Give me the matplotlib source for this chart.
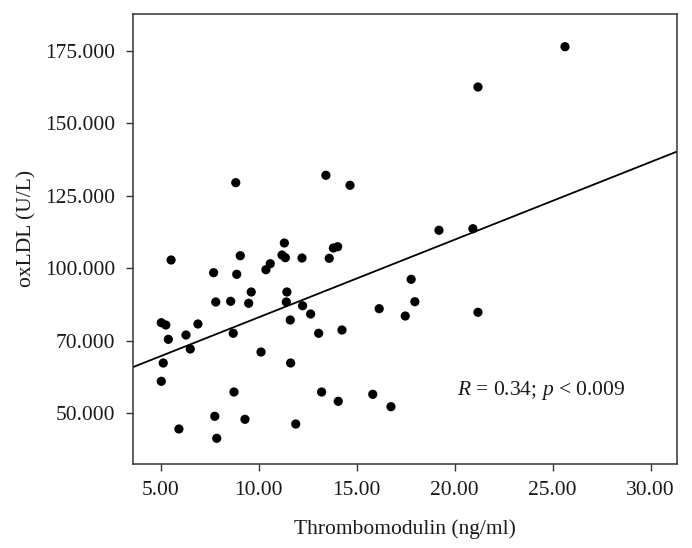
import matplotlib
matplotlib.use("Agg")
import matplotlib.pyplot as plt
import numpy as np

# Data
thrombomodulin = [5.53, 7.70, 9.06, 8.88, 11.31, 11.19, 11.36, 12.21, 13.60, 13.81,
                  14.03, 10.37, 10.59, 9.62, 7.81, 8.57, 9.49, 11.44, 11.41, 12.24,
                  12.65, 11.61, 13.06, 14.25, 16.15, 17.48, 17.78, 5.03, 5.26, 6.90,
                  5.39, 6.29, 6.51, 8.70, 10.12, 5.13, 5.03, 11.63, 8.74, 13.21,
                  14.06, 15.82, 16.75, 7.76, 5.93, 9.30, 11.89, 7.86, 8.83, 13.43,
                  14.66, 25.63, 21.19, 19.20, 20.93, 17.97, 21.19]
oxldl = [102.85, 98.47, 104.33, 97.92, 108.71, 104.57, 103.64, 103.54, 103.43, 106.98,
         107.43, 99.50, 101.57, 91.82, 88.37, 88.61, 87.92, 91.82, 88.37, 87.09,
         84.23, 82.16, 77.58, 78.72, 86.06, 83.54, 96.19, 81.23, 80.44, 80.79,
         75.51, 76.99, 72.17, 77.58, 71.13, 67.34, 61.03, 67.34, 57.34, 57.34,
         54.13, 56.55, 52.28, 48.97, 44.59, 47.93, 46.31, 41.38, 129.50, 132.05,
         128.60, 176.38, 162.49, 113.09, 113.64, 88.47, 84.82]

# Fit line as drawn in the reference (intercept, slope)
fit_intercept = 56.32
fit_slope = 2.677

x_ticks = [5, 10, 15, 20, 25, 30]
x_tick_labels = ["5.00", "10.00", "15.00", "20.00", "25.00", "30.00"]
y_ticks = [50, 75, 100, 125, 150, 175]
y_tick_labels = ["50.000", "70.000", "100.000", "125.000", "150.000", "175.000"]

x_label = "Thrombomodulin (ng/ml)"
y_label = "oxLDL (U/L)"
annotation = r"$R$ = 0.34; $p$ < 0.009"

plt.rcParams["font.family"] = ["Liberation Serif", "DejaVu Serif"]
plt.rcParams["mathtext.fontset"] = "custom"
plt.rcParams["mathtext.rm"] = "Liberation Serif"
plt.rcParams["mathtext.it"] = "Liberation Serif:italic"

fig = plt.figure(figsize=(6.92, 5.48), dpi=100)
ax = fig.add_axes([133.3 / 692, 1 - 464.3 / 548, (676.7 - 133.3) / 692, (464.3 - 14) / 548])

xlim = (3.602, 31.33)
ylim = (32.42, 187.65)
ax.set_xlim(*xlim)
ax.set_ylim(*ylim)

ax.scatter(thrombomodulin, oxldl, s=44, color="black", edgecolors="none", zorder=3)

xl = np.array(xlim)
ax.plot(xl, fit_intercept + fit_slope * xl, color="black", lw=1.3, zorder=2)

ax.set_xticks(x_ticks)
ax.set_xticklabels(x_tick_labels)
ax.set_yticks(y_ticks)
ax.set_yticklabels(y_tick_labels)

for s in ax.spines.values():
    s.set_color("#333333")
    s.set_linewidth(1.1)

ax.tick_params(axis="both", direction="out", length=5, width=1.0, color="#333333",
               labelsize=15.5, labelcolor="#1a1a1a")
ax.tick_params(axis="x", pad=7)
ax.tick_params(axis="y", pad=8)

fig.text(405 / 692, 1 - 529 / 548, x_label, ha="center", va="center", fontsize=15.5, color="#1a1a1a")
fig.text(27 / 692, 1 - 228 / 548, y_label, ha="center", va="center", rotation=90, fontsize=15.5, color="#1a1a1a")

ax.text(541 / 692, 1 - 390 / 548, annotation, transform=fig.transFigure, ha="center", va="center",
        fontsize=15.5, color="#1a1a1a")

fig.savefig("out.png", dpi=100)
